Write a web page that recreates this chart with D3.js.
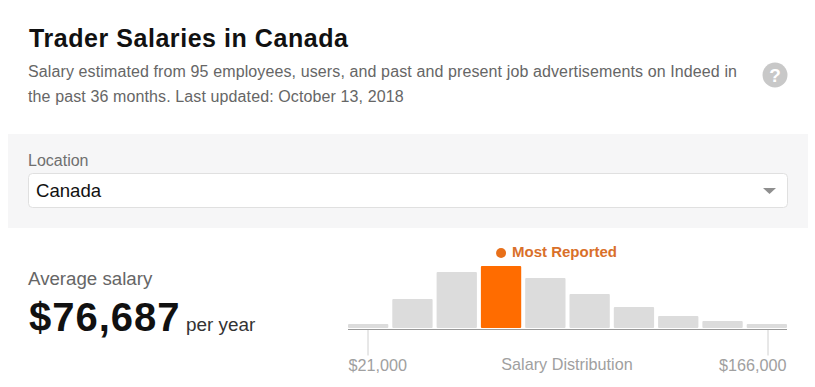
<!DOCTYPE html>
<html>
<head>
<meta charset="utf-8">
<script src="https://cdn.jsdelivr.net/npm/d3@7"></script>
<style>
html, body { margin: 0; padding: 0; background: #fff; overflow: hidden; }
svg { display: block; }
text { font-family: "Liberation Sans", Arial, sans-serif; }
</style>
</head>
<body>
<svg></svg>
<script>
var bins = ["1", "2", "3", "4", "5", "6", "7", "8", "9", "10"];
var counts = [4, 29, 56, 62, 50, 34, 21, 12, 7, 4];
var mostReported = "4";
var salaryTicks = [21000, 166000];
var descLines = [
    "Salary estimated from 95 employees, users, and past and present job advertisements on Indeed in",
    "the past 36 months. Last updated: October 13, 2018"
];

var svgWidth = 815, svgHeight = 387;

var svg = d3.select("svg")
    .attr("width", svgWidth)
    .attr("height", svgHeight);

// header
svg.append("text")
    .attr("x", 29).attr("y", 47)
    .style("font-size", "25px")
    .style("font-weight", "bold")
    .style("letter-spacing", "0.55px")
    .style("fill", "#111")
    .text("Trader Salaries in Canada");

svg.selectAll("text.desc")
    .data(descLines)
    .enter()
    .append("text")
    .attr("class", "desc")
    .attr("x", 28)
    .attr("y", function (d, i) { return 77 + i * 25; })
    .style("font-size", "16px")
    .style("letter-spacing", "0.115px")
    .style("fill", "#666")
    .text(function (d) { return d; });

// help icon
svg.append("circle")
    .attr("cx", 775).attr("cy", 75).attr("r", 12.5)
    .style("fill", "#c8c8c8");
svg.append("text")
    .attr("x", 775).attr("y", 82)
    .attr("text-anchor", "middle")
    .style("font-size", "19px")
    .style("font-weight", "bold")
    .style("fill", "#fff")
    .text("?");

// location panel
svg.append("rect")
    .attr("x", 8).attr("y", 134).attr("width", 800).attr("height", 94)
    .style("fill", "#f6f6f7");
svg.append("text")
    .attr("x", 28).attr("y", 166)
    .style("font-size", "16px")
    .style("fill", "#6f6f6f")
    .text("Location");
svg.append("rect")
    .attr("x", 28.5).attr("y", 173.5).attr("width", 759).attr("height", 34).attr("rx", 4)
    .style("fill", "#fff")
    .style("stroke", "#e0e0e0");
svg.append("text")
    .attr("x", 36).attr("y", 197)
    .style("font-size", "18.6px")
    .style("fill", "#111")
    .text("Canada");
svg.append("path")
    .attr("d", d3.line()([[763, 188], [776, 188], [769.5, 194]]))
    .style("fill", "#8f8f8f");

// average salary
svg.append("text")
    .attr("x", 28).attr("y", 285)
    .style("font-size", "18.7px")
    .style("fill", "#666")
    .text("Average salary");
svg.append("text")
    .attr("x", 29).attr("y", 331)
    .style("font-size", "40px")
    .style("font-weight", "bold")
    .style("letter-spacing", "1px")
    .style("fill", "#111")
    .text("$76,687");
svg.append("text")
    .attr("x", 186).attr("y", 331)
    .style("font-size", "18.9px")
    .style("fill", "#333")
    .text("per year");

// histogram
var baseline = 328;
var xScale = d3.scaleBand().domain(bins).range([348, 787]).paddingInner(0.09);
var yScale = d3.scaleLinear().domain([0, 62]).range([baseline, baseline - 62]);
var salaryScale = d3.scaleLinear().domain(salaryTicks).range([367.5, 767.5]);

svg.append("g")
    .selectAll("rect")
    .data(bins)
    .enter()
    .append("rect")
    .attr("x", function (d) { return xScale(d); })
    .attr("y", function (d, i) { return yScale(counts[i]); })
    .attr("width", xScale.bandwidth())
    .attr("height", function (d, i) { return baseline - yScale(counts[i]); })
    .attr("rx", 1)
    .style("fill", function (d) { return d === mostReported ? "#ff6c00" : "#dcdcdc"; });

// salary axis
var axis = svg.append("g")
    .attr("transform", "translate(0,329.5)")
    .call(d3.axisBottom(salaryScale)
        .tickValues(salaryTicks)
        .tickSize(26)
        .tickPadding(4)
        .tickFormat(d3.format("$,")));
axis.select(".domain").remove();
axis.selectAll(".tick line").style("stroke", "#d0d0d0");
axis.selectAll(".tick text")
    .attr("text-anchor", function (d, i) { return i === 0 ? "start" : "end"; })
    .attr("x", function (d, i) { return i === 0 ? -19.5 : 18.5; })
    .style("font-family", '"Liberation Sans", Arial, sans-serif')
    .style("font-size", "16.2px")
    .style("fill", "#a0a0a0");

svg.append("line")
    .attr("x1", 348).attr("x2", 787)
    .attr("y1", 329.5).attr("y2", 329.5)
    .style("stroke", "#999");

svg.append("text")
    .attr("x", 567).attr("y", 370)
    .attr("text-anchor", "middle")
    .style("font-size", "16.2px")
    .style("fill", "#a0a0a0")
    .text("Salary Distribution");

// most reported label
svg.append("circle")
    .attr("cx", xScale(mostReported) + xScale.bandwidth() / 2)
    .attr("cy", 253).attr("r", 5)
    .style("fill", "#e8701a");
svg.append("text")
    .attr("x", 512).attr("y", 257)
    .style("font-size", "15px")
    .style("font-weight", "bold")
    .style("fill", "#d9702a")
    .text("Most Reported");
</script>
</body>
</html>
